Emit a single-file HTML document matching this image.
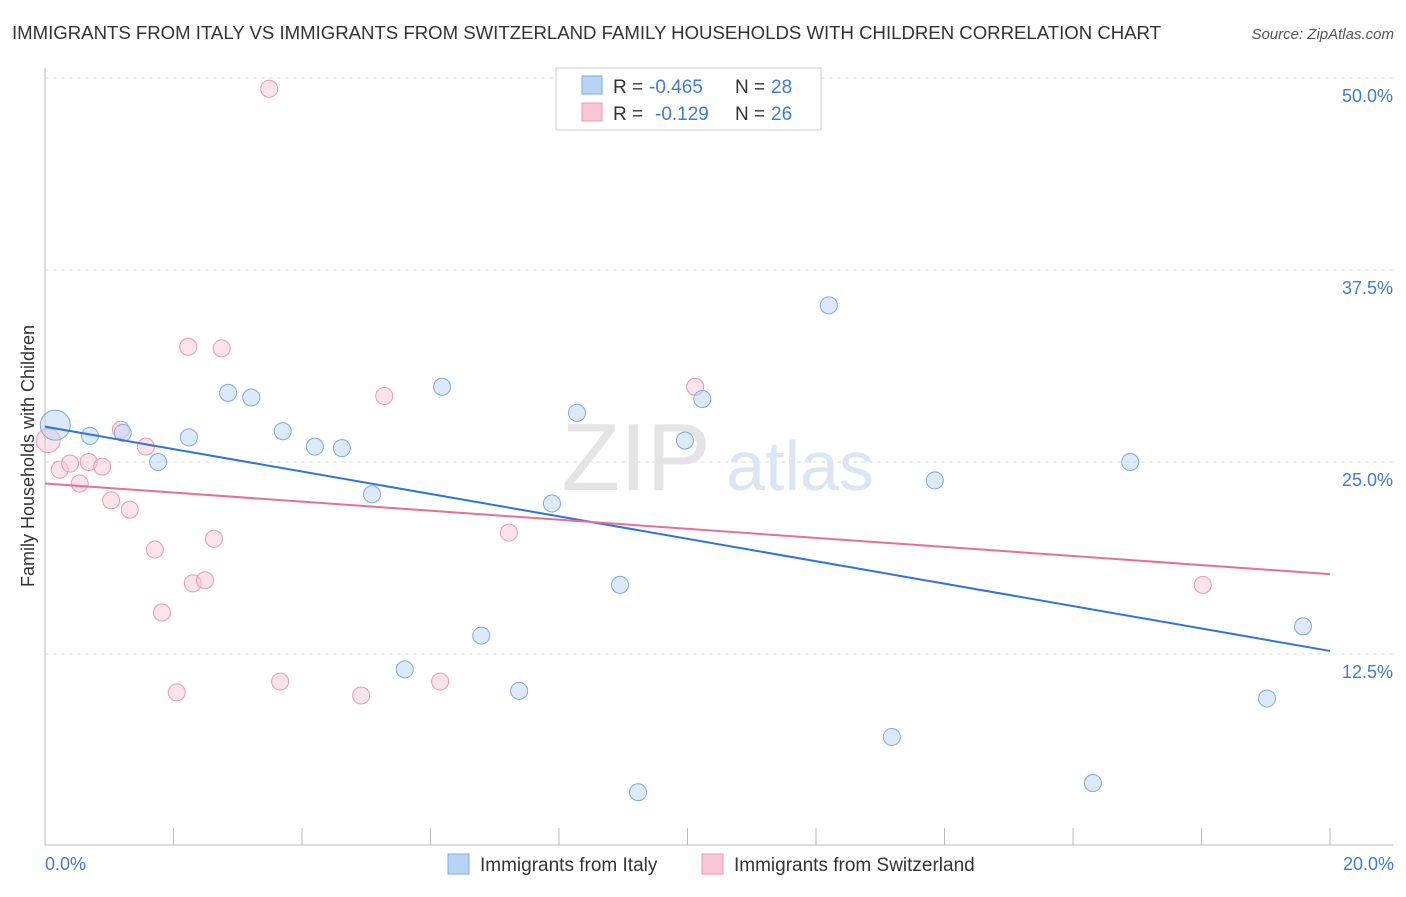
<!DOCTYPE html>
<html><head><meta charset="utf-8"><style>
body{margin:0;background:#fff;font-family:"Liberation Sans",sans-serif;}
svg text{font-family:"Liberation Sans",sans-serif;}
</style></head><body>
<svg width="1406" height="892" xmlns="http://www.w3.org/2000/svg">
<text x="12" y="39" font-size="18.5" fill="#333" textLength="1149" lengthAdjust="spacingAndGlyphs">IMMIGRANTS FROM ITALY VS IMMIGRANTS FROM SWITZERLAND FAMILY HOUSEHOLDS WITH CHILDREN CORRELATION CHART</text>
<text x="1394" y="39" font-size="15" fill="#555" font-style="italic" text-anchor="end">Source: ZipAtlas.com</text>
<g id="grid"></g>
<text x="636" y="490" font-size="96" fill="#e4e4e4" font-family="Liberation Serif" text-anchor="middle">ZIP</text>
<text x="800" y="490" font-size="70" fill="#dbe6f5" text-anchor="middle">atlas</text>
<g id="marks"></g>
<text transform="translate(34,456) rotate(-90)" font-size="18" fill="#333" text-anchor="middle">Family Households with Children</text>
<text x="45" y="870" font-size="18" fill="#3f7bd6">0.0%</text>
<text x="1394" y="870" font-size="18" fill="#3f7bd6" text-anchor="end">20.0%</text>
<g>
<rect x="556" y="68" width="265" height="62" fill="#fff" stroke="#ccc"/>
<rect x="582" y="76" width="20" height="18" fill="#b8d3f3" stroke="#7fa9e0"/>
<rect x="582" y="103" width="20" height="18" fill="#f9c6d3" stroke="#ec9ab0"/>
<text x="613" y="93" font-size="19" fill="#333">R =</text>
<text x="649" y="93" font-size="19" fill="#3f7bd6">-0.465</text>
<text x="735" y="93" font-size="19" fill="#333">N =</text>
<text x="771" y="93" font-size="19" fill="#3f7bd6">28</text>
<text x="613" y="120" font-size="19" fill="#333">R =</text>
<text x="655" y="120" font-size="19" fill="#3f7bd6">-0.129</text>
<text x="735" y="120" font-size="19" fill="#333">N =</text>
<text x="771" y="120" font-size="19" fill="#3f7bd6">26</text>
</g>
<g>
<rect x="448" y="854" width="21" height="20" fill="#b8d3f3" stroke="#7fa9e0"/>
<text x="480" y="871" font-size="19" fill="#333">Immigrants from Italy</text>
<rect x="702" y="854" width="21" height="20" fill="#f9c6d3" stroke="#ec9ab0"/>
<text x="734" y="871" font-size="19" fill="#333">Immigrants from Switzerland</text>
</g>
</svg>
<script>
const yTicks=[12.5,25,37.5,50];
const xTickCount=10;
const italyX=[0.16,0.70,1.21,1.76,2.24,2.85,3.21,3.70,4.20,4.62,5.09,6.18,6.79,5.60,7.38,7.89,8.28,8.95,9.23,9.96,10.23,12.2,13.18,13.85,16.31,16.89,19.02,19.58];
const italyY=[27.4,26.7,26.9,25.0,26.6,29.5,29.2,27.0,26.0,25.9,22.9,29.9,13.7,11.5,10.1,22.3,28.2,17.0,3.5,26.4,29.1,35.2,7.1,23.8,4.1,25.0,9.6,14.3];
const swissX=[0.05,0.23,0.39,0.54,0.68,0.89,1.03,1.18,1.32,1.57,1.71,1.82,2.05,2.23,2.30,2.49,2.63,2.75,3.49,3.66,4.92,5.28,6.15,7.22,10.12,18.02];
const swissY=[26.4,24.5,24.9,23.6,25.0,24.7,22.5,27.1,21.9,26.0,19.3,15.2,10.0,32.5,17.1,17.3,20.0,32.4,49.3,10.7,9.8,29.3,10.7,20.4,29.9,17.0];
const italyTrend=[27.3,12.7];
const swissTrend=[23.6,17.7];
const NS='http://www.w3.org/2000/svg';
const X=v=>45+v/20*1285, Y=v=>846-v/50*768;
function mk(t,a,p){const e=document.createElementNS(NS,t);for(const k in a)e.setAttribute(k,a[k]);p.appendChild(e);return e;}
const g=document.getElementById('grid'), m=document.getElementById('marks');
const ax=mk('line',{x1:45,y1:68,x2:45,y2:845,stroke:'#bbb'},g);


const bx=mk('line',{x1:45,y1:845,x2:1393,y2:845,stroke:'#bbb'},g);


for(let i=0;i<=xTickCount;i++){const x=X(i*20/xTickCount);const t=mk('line',{x1:x,y1:828,x2:x,y2:845,stroke:'#bbb'},g);

}
yTicks.forEach(v=>{const y=Y(v);const l=mk('line',{x1:45,y1:y,x2:1393,y2:y,stroke:'#ddd','stroke-dasharray':'4,4'},g);


const t=mk('text',{x:1393,y:y+24,'font-size':18,fill:'#3f7bd6','text-anchor':'end'},g);t.textContent=v.toFixed(1)+'%';

});
function pts(xs,ys,fill,stroke,name,big){xs.forEach((x,i)=>{const c=mk('circle',{cx:X(x),cy:Y(ys[i]),r:(i==0&&big)?big:8.5,fill:fill,'fill-opacity':0.5,stroke:stroke,'stroke-width':1},m);

});}
pts(swissX,swissY,'#f9c6d3','#ec9ab0','swiss-point',12);
pts(italyX,italyY,'#b8d3f3','#7fa9e0','italy-point',15);
const l1=mk('line',{x1:X(0),y1:Y(italyTrend[0]),x2:X(20),y2:Y(italyTrend[1]),stroke:'#2f74d8','stroke-width':2},m);


const l2=mk('line',{x1:X(0),y1:Y(swissTrend[0]),x2:X(20),y2:Y(swissTrend[1]),stroke:'#e4709a','stroke-width':2},m);


</script>
</body></html>
